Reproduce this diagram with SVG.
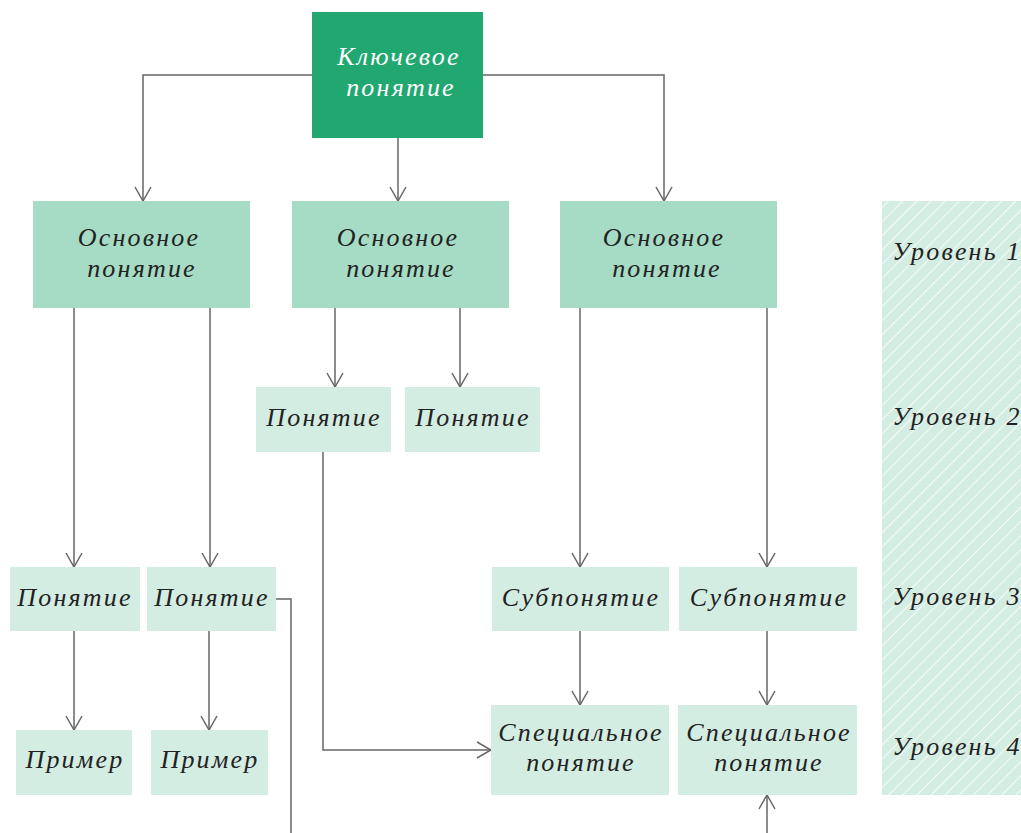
<svg xmlns="http://www.w3.org/2000/svg" width="1021" height="833" viewBox="0 0 1021 833">
<style>
.key{fill:#21a770}
.l1{fill:#a6dcc5}
.l2{fill:#d4ede2}
.t{font-family:"Liberation Serif",serif;font-style:italic;font-size:26px;letter-spacing:2.2px;fill:#222;text-anchor:middle}
.tw{fill:#fff}
.c{fill:none;stroke:#666;stroke-width:1.5}
</style>
<defs>
<marker id="ah" viewBox="0 0 16 18" refX="15" refY="9" markerWidth="16" markerHeight="18" markerUnits="userSpaceOnUse" orient="auto">
<path d="M1,1 L15,9 L1,17" fill="none" stroke="#666" stroke-width="1.5"/>
</marker>
<pattern id="hatch" width="10" height="10" patternUnits="userSpaceOnUse" patternTransform="rotate(45)">
<rect width="10" height="10" fill="#d4ede2"/>
<line x1="0" y1="0" x2="0" y2="10" stroke="#fff" stroke-width="1.6"/>
</pattern>
</defs>
<rect x="882" y="201" width="139" height="594" fill="url(#hatch)"/>
<g id="connectors" class="c">
<path d="M312,75 H143 V201" marker-end="url(#ah)"/>
<path d="M483,75 H664 V201" marker-end="url(#ah)"/>
<path d="M398,138 V201" marker-end="url(#ah)"/>
<path d="M335,308 V387" marker-end="url(#ah)"/>
<path d="M460,308 V387" marker-end="url(#ah)"/>
<path d="M74,308 V567" marker-end="url(#ah)"/>
<path d="M210,308 V567" marker-end="url(#ah)"/>
<path d="M580,308 V567" marker-end="url(#ah)"/>
<path d="M767,308 V567" marker-end="url(#ah)"/>
<path d="M74,631 V730" marker-end="url(#ah)"/>
<path d="M209,631 V730" marker-end="url(#ah)"/>
<path d="M580,631 V705" marker-end="url(#ah)"/>
<path d="M767,631 V705" marker-end="url(#ah)"/>
<path d="M323,452 V750 H491" marker-end="url(#ah)"/>
<path d="M276,599 H291 V833"/>
<path d="M767,833 V795" marker-end="url(#ah)"/>
</g>
<g id="key"><rect class="key" x="312" y="12" width="171" height="126"/><text class="t tw" x="399" y="65">Ключевое</text><text class="t tw" x="401" y="96">понятие</text></g>
<g id="main1"><rect class="l1" x="33" y="201" width="217" height="107"/><text class="t" x="139" y="246">Основное</text><text class="t" x="142" y="277">понятие</text></g>
<g id="main2"><rect class="l1" x="292" y="201" width="217" height="107"/><text class="t" x="398" y="246">Основное</text><text class="t" x="401" y="277">понятие</text></g>
<g id="main3"><rect class="l1" x="560" y="201" width="217" height="107"/><text class="t" x="664" y="246">Основное</text><text class="t" x="667" y="277">понятие</text></g>
<g id="c2a"><rect class="l2" x="256" y="387" width="135" height="65"/><text class="t" x="324" y="426">Понятие</text></g>
<g id="c2b"><rect class="l2" x="405" y="387" width="135" height="65"/><text class="t" x="473" y="426">Понятие</text></g>
<g id="c3a"><rect class="l2" x="10" y="567" width="130" height="64"/><text class="t" x="75" y="606">Понятие</text></g>
<g id="c3b"><rect class="l2" x="147" y="567" width="129" height="64"/><text class="t" x="212" y="606">Понятие</text></g>
<g id="s3a"><rect class="l2" x="492" y="567" width="177" height="64"/><text class="t" x="581" y="606">Субпонятие</text></g>
<g id="s3b"><rect class="l2" x="679" y="567" width="178" height="64"/><text class="t" x="769" y="606">Субпонятие</text></g>
<g id="e4a"><rect class="l2" x="16" y="730" width="116" height="65"/><text class="t" x="75" y="768">Пример</text></g>
<g id="e4b"><rect class="l2" x="151" y="730" width="117" height="65"/><text class="t" x="210" y="768">Пример</text></g>
<g id="sp4a"><rect class="l2" x="491" y="705" width="178" height="90"/><text class="t" x="581" y="741">Специальное</text><text class="t" x="581" y="771">понятие</text></g>
<g id="sp4b"><rect class="l2" x="678" y="705" width="179" height="90"/><text class="t" x="769" y="741">Специальное</text><text class="t" x="769" y="771">понятие</text></g>
<g id="levels">
<text class="t" x="957" y="260">Уровень 1</text>
<text class="t" x="957" y="425">Уровень 2</text>
<text class="t" x="957" y="605">Уровень 3</text>
<text class="t" x="957" y="755">Уровень 4</text>
</g>
</svg>
